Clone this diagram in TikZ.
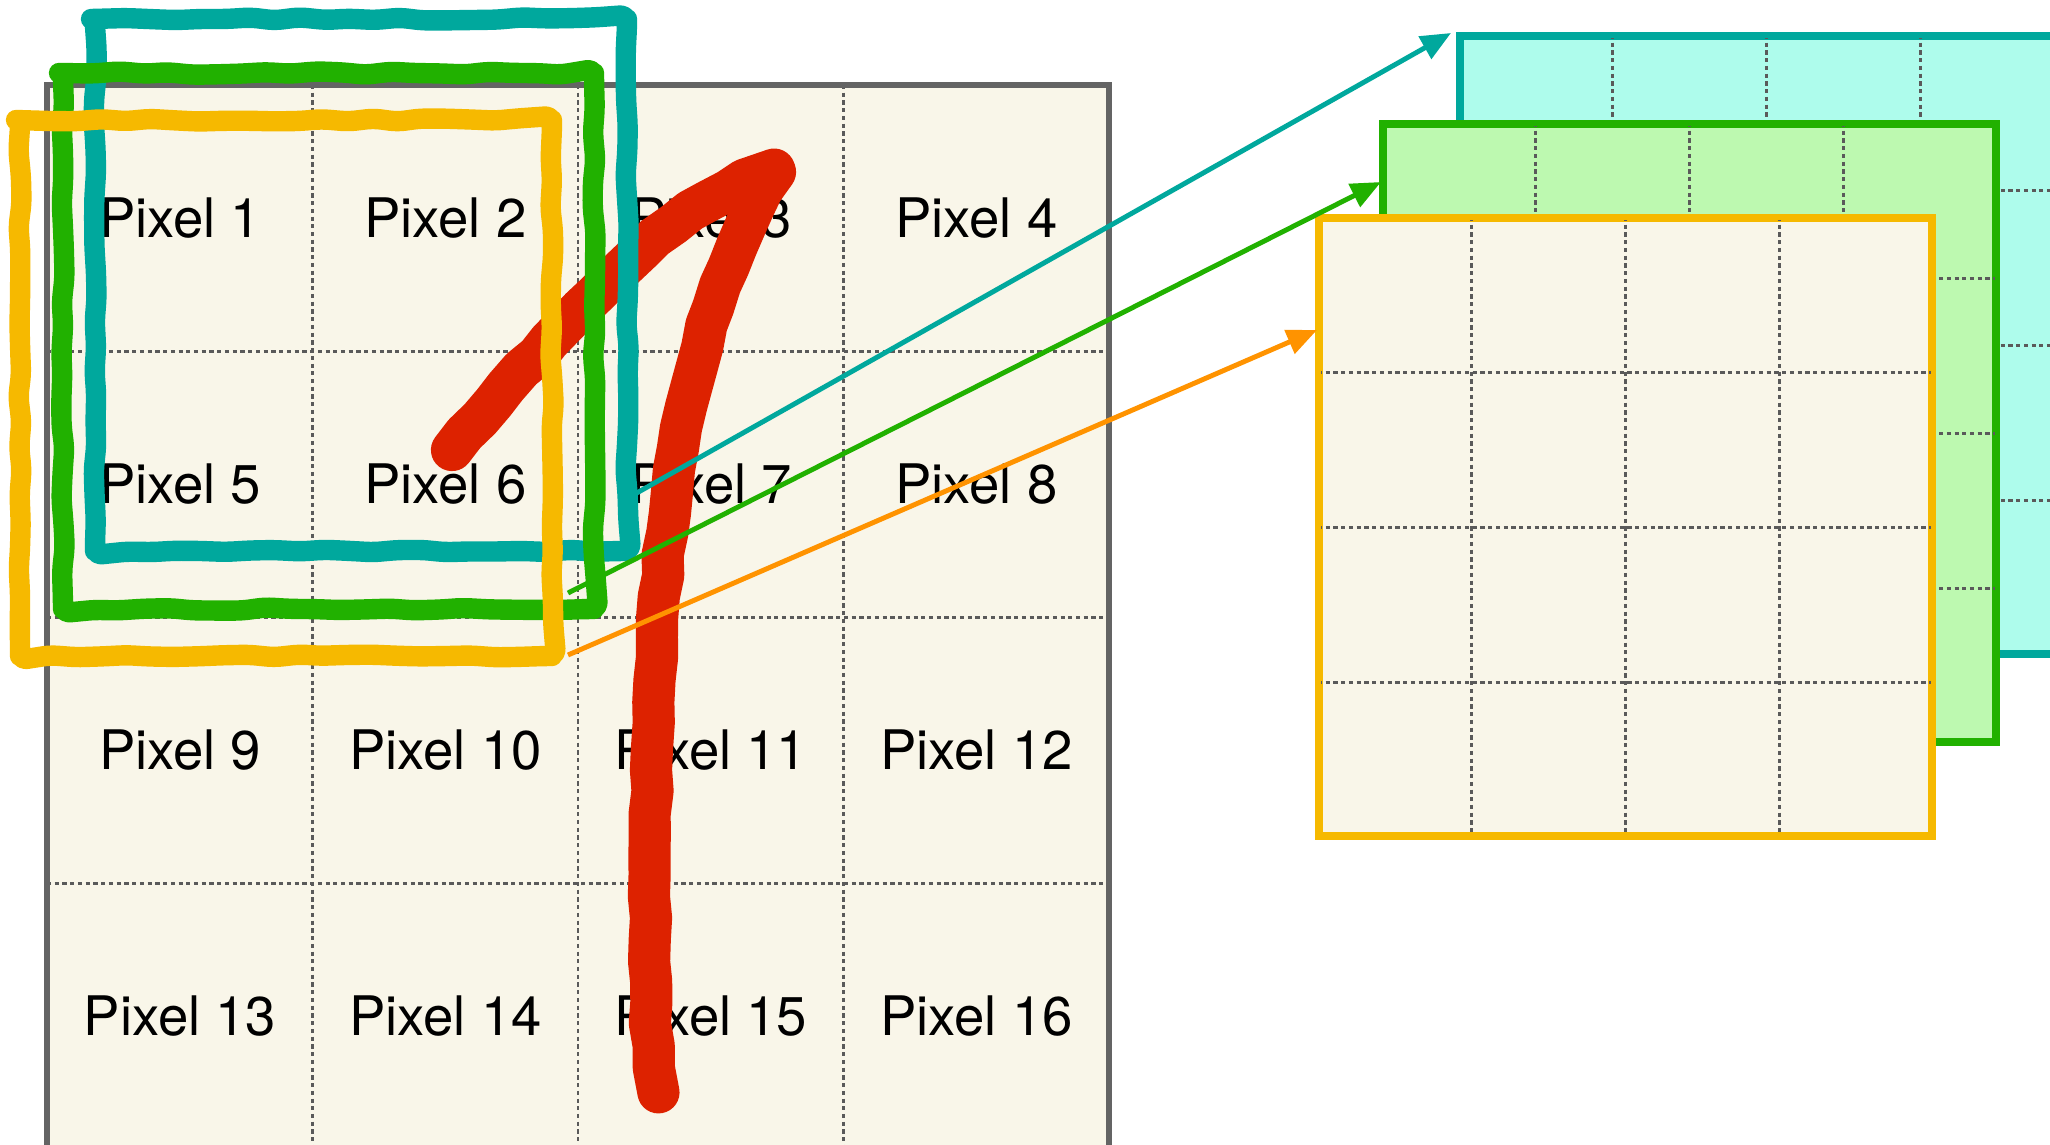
\documentclass[tikz,border=0pt]{standalone}
\usepackage{fontspec}
\setmainfont{TeX Gyre Heros}
\usetikzlibrary{arrows.meta,calc,decorations.pathmorphing}

\definecolor{mapteal}{RGB}{0,168,157}
\definecolor{mapaqua}{RGB}{174,252,236}
\definecolor{mapgreen}{RGB}{33,177,0}
\definecolor{mapmint}{RGB}{189,249,176}
\definecolor{mapamber}{RGB}{246,185,0}
\definecolor{papercream}{RGB}{249,246,233}
\definecolor{linkorange}{RGB}{255,147,0}
\definecolor{crayonred}{RGB}{221,34,0}
\definecolor{gridgray}{RGB}{90,90,90}
\definecolor{edgegray}{RGB}{100,100,100}

\begin{document}
\begin{tikzpicture}[
    x=0.01cm, y=-0.01cm,
    every node/.style={font=\fontsize{15.5}{18}\selectfont},
    fmap/.style={draw, line width=1.5pt, anchor=north west, inner sep=0pt, minimum width=6.1cm, minimum height=6.15cm},
    gridline/.style={draw=gridgray, line width=0.85pt, dash pattern=on 1.2pt off 1pt},
    window/.style={line width=5.8pt, line join=round, line cap=round, rounded corners=2pt, decorate, decoration={random steps, segment length=7pt, amplitude=0.5pt}},
    crayon/.style={draw=crayonred, line width=12pt, line cap=round, line join=round, decorate, decoration={random steps, segment length=6pt, amplitude=0.45pt}},
    link/.style={-{Triangle[length=3mm, width=2.5mm]}, line width=1.4pt}
]
\useasboundingbox (0,0) rectangle (2050,1145);

% feature maps, back to front
\foreach \m/\edge/\face/\px/\py in {cyanmap/mapteal/mapaqua/1459/35, greenmap/mapgreen/mapmint/1382/123, yellowmap/mapamber/papercream/1318/217} {
    \node[fmap, draw=\edge, fill=\face] (\m) at (\px,\py) {};
    \foreach \k in {1,2,3} {
        \draw[gridline] ($(\m.north west)!\k/4!(\m.north east)$) -- ($(\m.south west)!\k/4!(\m.south east)$);
        \draw[gridline] ($(\m.north west)!\k/4!(\m.south west)$) -- ($(\m.north east)!\k/4!(\m.south east)$);
    }
    \draw[\edge, line width=1.5pt] (\m.north west) rectangle (\m.south east);
}

% input image, 4x4 pixels
\fill[papercream] (47,85) rectangle (1109,1160);
\foreach \k in {1,2,3} {
    \draw[gridline] (47+265.5*\k,85) -- (47+265.5*\k,1160);
    \draw[gridline] (47,85+266*\k) -- (1109,85+266*\k);
}
\draw[edgegray, line width=1.8pt] (47,1160) -- (47,85) -- (1109,85) -- (1109,1160);

\foreach \r in {0,...,3}
    \foreach \c in {0,...,3} {
        \pgfmathtruncatemacro\n{4*\r+\c+1}
        \node (pix\n) at (180+265.5*\c,218+266*\r) {Pixel \n};
    }

% the handwritten digit
\draw[crayon] (452,450) .. controls (540,350) and (670,195) .. (775,172);
\draw[crayon] (775,172) .. controls (700,290) and (658,480) .. (652,750)
    .. controls (648,950) and (648,1050) .. (660,1092);

% filter windows
\draw[window, mapteal] (95,19) rectangle (627,551);
\draw[window, mapgreen] (63,73) rectangle (594,609);
\draw[window, mapamber] (20,120) rectangle (552,656);

\coordinate (cyanout) at (619,503);
\coordinate (greenout) at (568,593);
\coordinate (orangeout) at (568,655);

\draw[link, mapteal] (cyanout) -- ($(cyanmap.north west)+(-8,-2)$);
\draw[link, mapgreen] (greenout) -- ($(greenmap.north west)+(-1,59)$);
\draw[link, linkorange] (orangeout) -- ($(yellowmap.north west)+(-1,113)$);
\end{tikzpicture}
\end{document}
